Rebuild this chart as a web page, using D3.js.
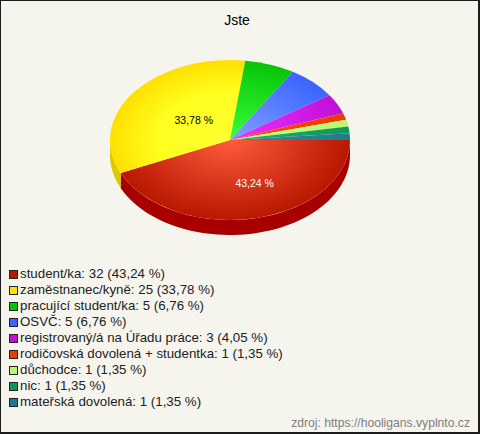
<!DOCTYPE html>
<html><head><meta charset="utf-8">
<script src="https://cdn.jsdelivr.net/npm/d3@7"></script>
<style>html,body{margin:0;padding:0;background:#fff}svg{display:block}text{font-family:"Liberation Sans",Arial,sans-serif}</style>
</head><body><div id="c"></div>
<script>
const categories=["student/ka","zaměstnanec/kyně","pracující student/ka","OSVČ","registrovaný/á na Úřadu práce","rodičovská dovolená + studentka","důchodce","nic","mateřská dovolená"];
const counts=[32,25,5,5,3,1,1,1,1];
const percents=["43,24","33,78","6,76","6,76","4,05","1,35","1,35","1,35","1,35"];
const edgeColors=["#b81800","#ffe000","#08c408","#3c64ff","#c010d8","#e83c00","#b8f870","#109858","#1c7c90"];
const lightColors=["#ff5c3c","#ffff30","#38ff38","#80a0ff","#f030ff","#ff4c08","#c8ff80","#20b070","#408898"];
const sideColors=["#a80000","#e0c800","#08a008","#2848d0","#9808a8","#c03000","#90c850","#087840","#105868"];
const labelColors=["#fff","#000"];
const W=480,H=434,cx=230,cy=140,rx=120,ry=80,depth=15;
const svg=d3.select("#c").append("svg").attr("width",W).attr("height",H);
svg.append("rect").attr("width",W).attr("height",H).attr("fill","#1c1c1c");
svg.append("rect").attr("x",1).attr("y",1).attr("width",W-3).attr("height",H-3).attr("fill","#f5f5ee");
svg.append("text").attr("x",237).attr("y",25).attr("text-anchor","middle").attr("font-size",14).attr("fill","#000").text("Jste");
const defs=svg.append("defs");
const arcs=d3.pie().sort(null).startAngle(Math.PI/2).endAngle(Math.PI*2.5)(counts);
const x=d3.scaleLinear().domain([-1,1]).range([cx-rx,cx+rx]);
const y=d3.scaleLinear().domain([-1,1]).range([cy-ry,cy+ry]);
arcs.forEach((a,i)=>{
 const g=defs.append("radialGradient").attr("id","g"+i).attr("gradientUnits","userSpaceOnUse").attr("cx",0).attr("cy",0).attr("r",1);
 g.append("stop").attr("offset",0).attr("stop-color",lightColors[i]);
 if(i==1) g.append("stop").attr("offset",.6).attr("stop-color","#ffff20");
 g.append("stop").attr("offset",1).attr("stop-color",edgeColors[i]);
});
// side wall: only the part of each slice facing the viewer
const steps=d3.range(0,61).map(k=>k/60);
arcs.forEach((a,i)=>{
 const s=Math.max(a.startAngle,Math.PI/2), e=Math.min(a.endAngle,Math.PI*1.5);
 if(e<=s) return;
 const pts=steps.map(t=>{const th=s+(e-s)*t-Math.PI/2;return [x(Math.cos(th)),y(Math.sin(th))]});
 const area=d3.area().x(d=>d[0]).y0(d=>d[1]).y1(d=>d[1]+depth);
 svg.append("path").attr("d",area(pts)).attr("fill",sideColors[i]);
});
const topFace=svg.append("g").attr("transform",`translate(${cx},${cy}) scale(${rx},${ry})`);
const arc=d3.arc().innerRadius(0).outerRadius(1);
topFace.selectAll("path").data(arcs).join("path").attr("d",arc).attr("fill",(d,i)=>`url(#g${i})`);
// value labels on the two largest slices
[0,1].forEach(i=>{
 const a=arcs[i],m=(a.startAngle+a.endAngle)/2-Math.PI/2;
 svg.append("text").attr("x",cx+rx*.5*Math.cos(m)+12).attr("y",cy+ry*.5*Math.sin(m)+8)
  .attr("text-anchor","middle").attr("font-size",10.5).attr("fill",labelColors[i]).text(percents[i]+" %");
});
const ly=d3.scalePoint().domain(d3.range(categories.length)).range([274,402]);
const leg=svg.append("g");
categories.forEach((c,i)=>{
 leg.append("rect").attr("x",9.5).attr("y",ly(i)-3.5).attr("width",8).attr("height",8).attr("fill",edgeColors[i]).attr("stroke","#222");
 leg.append("text").attr("x",20).attr("y",ly(i)+4).attr("font-size",13.3).attr("fill","#222").text(`${c}: ${counts[i]} (${percents[i]} %)`);
});
svg.append("text").attr("x",470).attr("y",427).attr("text-anchor","end").attr("font-size",12.15).attr("fill","#808080").text("zdroj: https://hooligans.vyplnto.cz");
</script></body></html>
